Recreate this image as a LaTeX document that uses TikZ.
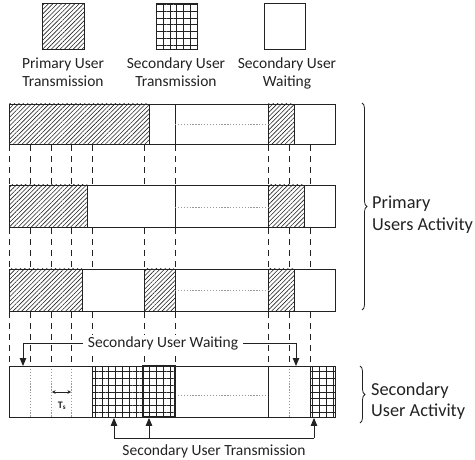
\documentclass[tikz,border=0pt]{standalone}
\usepackage{fontspec}
\setmainfont{Carlito}
\usetikzlibrary{patterns.meta,arrows.meta,decorations.pathreplacing}
\definecolor{ink}{HTML}{222222}
\begin{document}
\begin{tikzpicture}[x=1pt,y=-1pt,
  font=\fontsize{15.5}{18}\selectfont,
  outline/.style={draw=ink,line width=0.9pt},
  bar/.style={outline,rectangle,inner sep=0pt,minimum width=326pt,anchor=north west},
  hatched/.style={pattern={Lines[angle=45,distance=3.1pt,line width=0.6pt]},pattern color=ink},
  gridded/.style={pattern={Hatch[angle=0,distance=6.8pt,line width=0.75pt]},pattern color=ink},
  tick/.style={draw=ink,line width=0.8pt,dash pattern=on 6pt off 5pt},
  faint/.style={draw=gray!80,line width=0.7pt,dash pattern=on 1.3pt off 1.6pt},
  sep/.style={draw=ink,line width=0.9pt},
  lbl/.style={align=center,text=ink,inner sep=0pt},
  grouplbl/.style={lbl,align=left,anchor=west},
  tip/.style={-{Triangle[length=8pt,width=6.5pt]},draw=ink,line width=0.9pt},
  curly/.style={draw=ink,line width=0.8pt,decorate,decoration={brace,amplitude=5pt}}]
\useasboundingbox (0,0) rectangle (475,460);

% ---- legend ----
\node[outline,hatched,minimum width=42pt,minimum height=46pt,anchor=north west,inner sep=0pt] (lgP) at (42,3) {};
\node[outline,gridded,minimum width=41pt,minimum height=46pt,anchor=north west,inner sep=0pt] (lgS) at (156,3) {};
\node[outline,minimum width=41pt,minimum height=46pt,anchor=north west,inner sep=0pt] (lgW) at (264,3) {};
\node[lbl,anchor=north] (lgPt) at (63,58) {Primary User\\Transmission};
\node[lbl,anchor=north] (lgSt) at (176,58) {Secondary User\\Transmission};
\node[lbl,anchor=north] (lgWt) at (287,58) {Secondary User\\Waiting};

% ---- primary user 1 ----
\fill[hatched] (9,104) rectangle (149,144);
\fill[hatched] (268,104) rectangle (294,144);
\draw[sep] (149,104) -- (149,144) (175,104) -- (175,144) (268,104) -- (268,144) (294,104) -- (294,144);
\draw[faint] (175,124) -- (268,124);
\node[bar,minimum height=40pt] (pu1) at (9,104) {};

% ---- primary user 2 ----
\fill[hatched] (9,185) rectangle (87,227);
\fill[hatched] (268,185) rectangle (304,227);
\draw[sep] (87,185) -- (87,227) (175,185) -- (175,227) (268,185) -- (268,227) (304,185) -- (304,227);
\draw[faint] (175,207) -- (268,207);
\node[bar,minimum height=42pt] (pu2) at (9,185) {};

% ---- primary user 3 ----
\fill[hatched] (9,269) rectangle (82,311);
\fill[hatched] (144,269) rectangle (175,311);
\fill[hatched] (268,269) rectangle (294,311);
\draw[sep] (82,269) -- (82,311) (144,269) -- (144,311) (175,269) -- (175,311) (268,269) -- (268,311) (294,269) -- (294,311);
\draw[faint] (175,290) -- (268,290);
\node[bar,minimum height=42pt] (pu3) at (9,269) {};

% ---- secondary user ----
\foreach \x in {30,51,71,289} \draw[faint] (\x,366) -- (\x,417);
\draw[faint] (175,395) -- (268,395);
\fill[gridded] (92,366) rectangle (147,417);
\fill[gridded] (143,366) rectangle (175,417);
\fill[gridded] (310,366) rectangle (335,417);
\draw[sep] (92,366) -- (92,417) (268,366) -- (268,417) (310,366) -- (310,417);
\draw[draw=ink,line width=1.3pt] (143,366) rectangle (175,417);
\node[bar,minimum height=51pt] (su) at (9,366) {};

% ---- slot boundaries ----
\foreach \x in {9,30,51,71,92,144,175,268,289,310} {
  \draw[tick] (\x,0 |- pu1.south) -- (\x,0 |- pu2.north);
  \draw[tick] (\x,0 |- pu2.south) -- (\x,0 |- pu3.north);
  \draw[tick] (\x,0 |- pu3.south) -- (\x,0 |- su.north);
}

% ---- sensing slot ----
\coordinate (tsL) at (52,392);
\coordinate (tsR) at (71,392);
\draw[{Stealth[length=3.5pt,width=3.5pt]}-{Stealth[length=3.5pt,width=3.5pt]},draw=ink,line width=0.6pt] (tsL) -- (tsR);
\node[lbl,font=\fontsize{10}{12}\selectfont\bfseries] (ts) at (62,406) {T\textsubscript{s}};

% ---- waiting callout ----
\node[lbl,fill=white,inner xsep=5pt,inner ysep=1pt] (wait) at (163,343) {Secondary User Waiting};
\coordinate (wA) at (23,0 |- su.north);
\coordinate (wB) at (296,0 |- su.north);
\draw[tip] (wait.west) -| (wA);
\draw[tip] (wait.east) -| (wB);

% ---- transmission callout ----
\coordinate (jA) at (114,438);
\coordinate (jB) at (149,438);
\coordinate (jC) at (314,438);
\draw[draw=ink,line width=0.9pt] (jA) -- (jC);
\draw[tip] (jA) -- (jA |- su.south);
\draw[tip] (jB) -- (jB |- su.south);
\draw[tip] (jC) -- (jC |- su.south);
\node[lbl,anchor=base] (trans) at (214,455.5) {Secondary User Transmission};

% ---- group braces ----
\coordinate (bP1) at (362,103);
\coordinate (bP2) at (362,310);
\draw[curly] (bP1) -- (bP2);
\node[grouplbl,font=\fontsize{18.3}{22}\selectfont] (grpP) at (372,215) {Primary\\Users Activity};
\coordinate (bS1) at (360,366);
\coordinate (bS2) at (360,423);
\draw[curly] (bS1) -- (bS2);
\node[grouplbl,font=\fontsize{18.3}{21}\selectfont] (grpS) at (371,401) {Secondary\\User Activity};
\end{tikzpicture}
\end{document}
